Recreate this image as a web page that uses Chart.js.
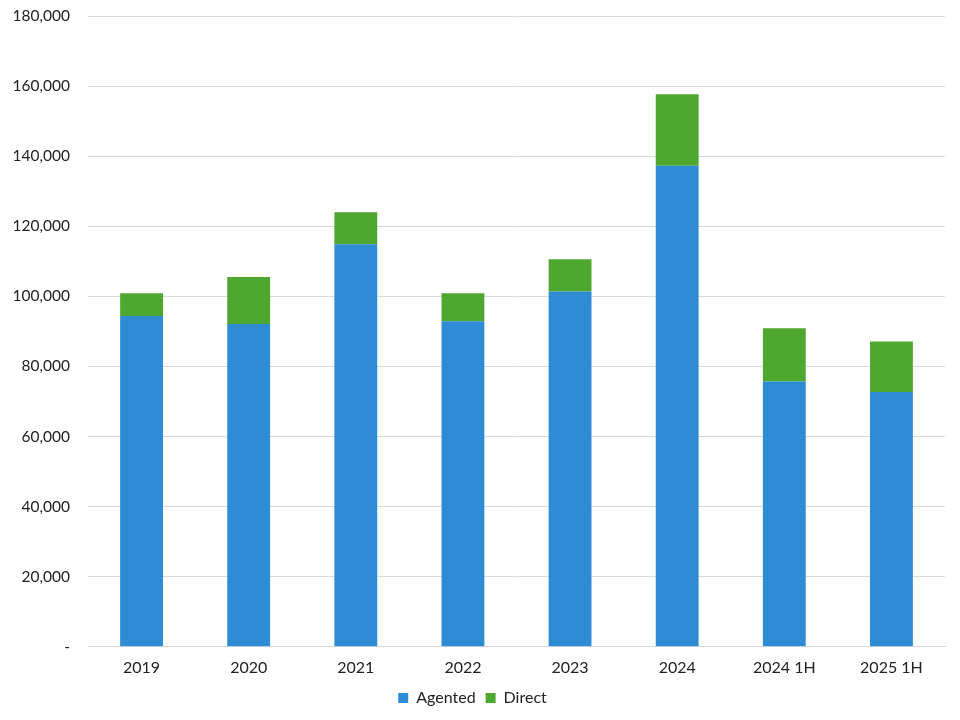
<!DOCTYPE html>
<html>
<head>
<meta charset="utf-8">
<script src="https://cdn.jsdelivr.net/npm/chart.js@4"></script>
<style>
  html, body { margin: 0; padding: 0; background: #fff; }
  #wrap { width: 960px; height: 720px; }
</style>
</head>
<body>
<div id="wrap"><canvas id="chart" width="960" height="720"></canvas></div>
<script>
const labels = ['2019', '2020', '2021', '2022', '2023', '2024', '2024 1H', '2025 1H']
const agented = [94400, 92100, 114900, 92900, 101400, 137300, 75700, 72700]
const direct = [6500, 13400, 9100, 8000, 9200, 20400, 15200, 14400]

const font = { family: 'Lato', size: 16 }
const yFont = { family: 'Lato', size: 15.5 }

new Chart(document.getElementById('chart'), {
    type: 'bar',
    data: {
        labels,
        datasets: [
            {
                label: 'Agented',
                data: agented,
                backgroundColor: '#2e8cd5',
                categoryPercentage: 1,
                barPercentage: 0.4
            },
            {
                label: 'Direct',
                data: direct,
                backgroundColor: '#4ea72e',
                categoryPercentage: 1,
                barPercentage: 0.4
            }
        ]
    },
    options: {
        responsive: false,
        animation: false,
        layout: { padding: { top: 16, right: 15, left: 0, bottom: 4 } },
        plugins: {
            legend: {
                position: 'bottom',
                labels: {
                    font,
                    color: '#222',
                    boxWidth: 10,
                    boxHeight: 10,
                    padding: 10
                }
            },
            tooltip: { enabled: false }
        },
        scales: {
            x: {
                stacked: true,
                grid: { display: false },
                border: { color: '#d9d9d9' },
                ticks: { font, color: '#222', padding: 3 }
            },
            y: {
                stacked: true,
                min: 0,
                max: 180000,
                afterFit: s => {
                    s.width = 88
                    s.paddingTop = 0
                },
                border: { display: false },
                grid: { color: '#d9d9d9', drawTicks: false },
                ticks: {
                    stepSize: 20000,
                    font: yFont,
                    color: '#222',
                    padding: 18,
                    callback: v => v === 0 ? '-' : v.toLocaleString('en-US')
                }
            }
        }
    }
})
</script>
</body>
</html>
